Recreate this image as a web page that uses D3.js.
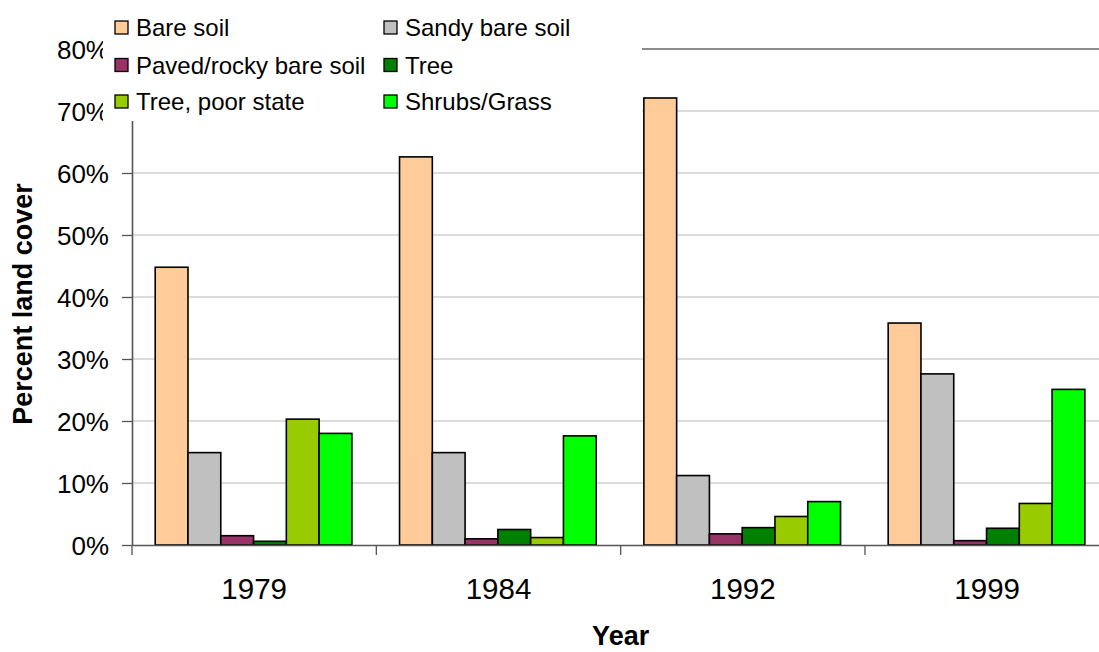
<!DOCTYPE html>
<html>
<head>
<meta charset="utf-8">
<script src="https://cdn.jsdelivr.net/npm/d3@7/dist/d3.min.js"></script>
<style>
  html, body { margin: 0; padding: 0; background: #fff; }
  svg { display: block; font-family: "Liberation Sans", Arial, sans-serif; }
</style>
</head>
<body>
<svg id="chart" width="1099" height="652"></svg>
<script>
const years = ["1979", "1984", "1992", "1999"];
const seriesNames = ["Bare soil", "Sandy bare soil", "Paved/rocky bare soil", "Tree", "Tree, poor state", "Shrubs/Grass"];
const seriesColors = ["#FFCC99", "#C0C0C0", "#993366", "#008000", "#99CC00", "#00FF00"];
const bareSoil = [44.8, 62.6, 72.1, 35.8];
const sandyBareSoil = [14.9, 14.9, 11.2, 27.6];
const pavedRocky = [1.5, 1.0, 1.8, 0.7];
const tree = [0.6, 2.5, 2.8, 2.7];
const treePoor = [20.3, 1.2, 4.6, 6.7];
const shrubsGrass = [18.0, 17.6, 7.0, 25.1];
const yTicks = [0, 10, 20, 30, 40, 50, 60, 70, 80];

const seriesValues = [bareSoil, sandyBareSoil, pavedRocky, tree, treePoor, shrubsGrass];

const svg = d3.select("#chart");
const pLeft = 132, pRight = 1109.3, pBottom = 545, pTop = 49;

const x = d3.scaleBand().domain(years).range([pLeft, pRight]).padding(0);
const bw = x.bandwidth();
const x1 = d3.scaleBand().domain(seriesNames).range([bw * 0.095, bw * 0.9]).padding(0);
const y = d3.scaleLinear().domain([0, 80]).range([pBottom, pTop]);

// gridlines
svg.append("g").selectAll("line").data(yTicks.filter(d => d > 0)).join("line")
  .attr("x1", pLeft).attr("x2", pRight)
  .attr("y1", d => y(d)).attr("y2", d => y(d))
  .attr("stroke", d => d === 80 ? "#8c8c8c" : "#d0d0d0")
  .attr("stroke-width", d => d === 80 ? 2 : 1.6);

// bars
const groups = svg.append("g").selectAll("g").data(years).join("g")
  .attr("transform", d => `translate(${x(d)},0)`);
groups.selectAll("rect").data((yr, yi) => seriesNames.map((s, si) => ({ s, si, v: seriesValues[si][yi] })))
  .join("rect")
  .attr("x", d => x1(d.s))
  .attr("width", x1.bandwidth())
  .attr("y", d => y(d.v))
  .attr("height", d => pBottom - y(d.v))
  .attr("fill", d => seriesColors[d.si])
  .attr("stroke", "#000")
  .attr("stroke-width", 1.6);

// y axis
const yAxis = d3.axisLeft(y).tickValues(yTicks).tickFormat(d => d + "%").tickSize(10).tickSizeOuter(0);
const gy = svg.append("g").attr("transform", `translate(${pLeft},0)`).call(yAxis);
gy.select(".domain").attr("stroke", "#555").attr("stroke-width", 1.6);
gy.selectAll(".tick line").attr("stroke", "#555").attr("stroke-width", 1.3);
gy.selectAll(".tick text").attr("x", -23).attr("dy", "0.36em")
  .attr("font-size", 26).attr("fill", "#000")
  .attr("font-family", "Liberation Sans, Arial, sans-serif");

// x axis
const xAxis = d3.axisBottom(x).tickSize(0).tickSizeOuter(0);
const gx = svg.append("g").attr("transform", `translate(0,${pBottom})`).call(xAxis);
gx.select(".domain").attr("stroke", "#555").attr("stroke-width", 1.6);
gx.selectAll(".tick text").attr("y", 54).attr("dy", 0)
  .attr("font-size", 29.5).attr("fill", "#000")
  .attr("font-family", "Liberation Sans, Arial, sans-serif");
// category separator ticks
const sepPos = years.map(d => x(d)).concat([pRight]);
svg.append("g").selectAll("line").data(sepPos).join("line")
  .attr("x1", d => d).attr("x2", d => d)
  .attr("y1", pBottom).attr("y2", pBottom + 10)
  .attr("stroke", "#555").attr("stroke-width", 1.3);

// axis titles
svg.append("text").attr("transform", `translate(32,${(pTop + pBottom) / 2 + 7}) rotate(-90)`)
  .attr("text-anchor", "middle").attr("font-weight", "bold").attr("font-size", 27)
  .text("Percent land cover");
svg.append("text").attr("x", (pLeft + pRight) / 2).attr("y", 645)
  .attr("text-anchor", "middle").attr("font-weight", "bold").attr("font-size", 27)
  .text("Year");

// legend
const lg = svg.append("g");
lg.append("rect").attr("x", 103).attr("y", 0).attr("width", 539).attr("height", 121).attr("fill", "#fff");
const colX = [115, 384];
const rowY = [27.5, 65, 101.5];
const items = lg.selectAll("g.item").data(seriesNames).join("g").attr("class", "item")
  .attr("transform", (d, i) => `translate(${colX[i % 2]},${rowY[Math.floor(i / 2)]})`);
items.append("rect").attr("x", 0).attr("y", -6.5).attr("width", 13).attr("height", 13)
  .attr("fill", (d, i) => seriesColors[i]).attr("stroke", "#000").attr("stroke-width", 1.3);
items.append("text").attr("x", 21).attr("y", 8.5).attr("font-size", 24).text(d => d);
</script>
</body>
</html>
